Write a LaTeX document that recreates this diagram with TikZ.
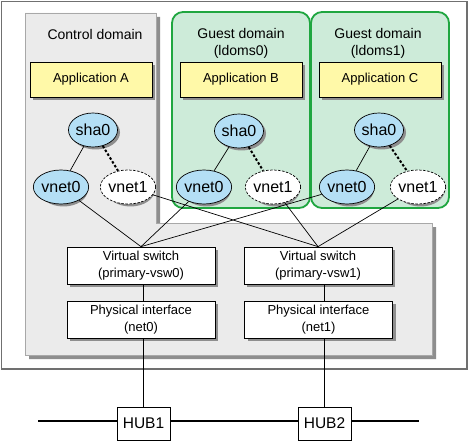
\documentclass[tikz,border=0pt]{standalone}
\usepackage{fontspec}
\setmainfont{Liberation Sans}
\usetikzlibrary{shapes.geometric}
\definecolor{ctrlgray}{HTML}{EBEBEB}
\definecolor{ctrledge}{HTML}{A8A8A8}
\definecolor{shadowgray}{HTML}{8E8E8E}
\definecolor{framegray}{HTML}{707070}
\definecolor{guestfill}{HTML}{CDEBD9}
\definecolor{guestedge}{HTML}{1FA640}
\definecolor{appfill}{HTML}{FFF9A8}
\definecolor{blobfill}{HTML}{B4DFF5}
\tikzset{
  shadowfill/.style={fill=shadowgray,draw=none},
  txt/.style={font=\fontsize{14bp}{17bp}\selectfont,align=center,inner sep=0pt},
  appbox/.style={draw=black,line width=0.7bp,fill=appfill,minimum width=122bp,minimum height=35bp,inner sep=0pt,font=\fontsize{13bp}{17bp}\selectfont},
  swbox/.style={draw=black,line width=0.7bp,fill=white,minimum width=148bp,minimum height=37bp,inner sep=0pt,align=center,font=\fontsize{13bp}{17bp}\selectfont},
  hubbox/.style={draw=black,line width=0.7bp,fill=white,minimum width=53bp,minimum height=33bp,inner sep=0pt,font=\fontsize{15.5bp}{18bp}\selectfont},
  blob/.style={ellipse,draw=black,line width=0.7bp,fill=blobfill,minimum width=49bp,minimum height=34bp,inner sep=0pt,font=\fontsize{16bp}{18bp}\selectfont},
  dblob/.style={blob,fill=white,dash pattern=on 2.5bp off 1.5bp},
  guestbox/.style={draw=guestedge,line width=1.8bp,fill=guestfill,rounded corners=11bp},
  link/.style={draw=black,line width=0.7bp},
  dlink/.style={draw=black,line width=2bp,dash pattern=on 2.5bp off 2bp},
  bus/.style={draw=black,line width=1.2bp},
}
\newcommand{\blobshadow}[2]{\fill[shadowfill] (#1+2.5,#2+2.5) ellipse [x radius=24.5,y radius=17];}
\begin{document}
\begin{tikzpicture}[x=1bp,y=-1bp]
\fill[white] (0,0) rectangle (469,444);
\useasboundingbox (0,0) rectangle (469,444);
% outer frame
\draw[framegray,line width=1.2bp] (1.5,1.5) rectangle (467,369);
% control domain area with shadow
\fill[shadowfill] (29,17) -- (160,17) -- (160,227) -- (436,227) -- (436,359) -- (29,359) -- cycle;
\path[fill=ctrlgray,draw=ctrledge,line width=0.7bp] (25,13) -- (156,13) -- (156,223) -- (432,223) -- (432,355) -- (25,355) -- cycle;
% guest domains
\path[guestbox] (172,12) rectangle (310,208);
\path[guestbox] (311,12) rectangle (449,208);
% titles
\node[txt] (tctrl) at (95,35) {Control domain};
\node[txt] (tg0) at (241,43.5) {Guest domain\\(ldoms0)};
\node[txt] (tg1) at (378,43.5) {Guest domain\\(ldoms1)};
% applications
\fill[shadowfill] (33,65) rectangle (155,100);
\fill[shadowfill] (183,65) rectangle (305,100);
\fill[shadowfill] (322,65) rectangle (444,100);
\node[appbox] (appA) at (91,79.5) {Application A};
\node[appbox] (appB) at (241,79.5) {Application B};
\node[appbox] (appC) at (380,79.5) {Application C};
% ellipses
\blobshadow{93}{130}
\blobshadow{61}{187}
\blobshadow{128}{187}
\blobshadow{239}{131}
\blobshadow{204}{187}
\blobshadow{273}{187}
\blobshadow{379}{130}
\blobshadow{347}{187}
\blobshadow{418}{187}
\node[blob] (cs) at (93,130) {sha0};
\node[blob] (cv0) at (61,187) {vnet0};
\node[dblob] (cv1) at (128,187) {vnet1};
\node[blob] (gs0) at (239,131) {sha0};
\node[blob] (g0v0) at (204,187) {vnet0};
\node[dblob] (g0v1) at (273,187) {vnet1};
\node[blob] (gs1) at (379,130) {sha0};
\node[blob] (g1v0) at (347,187) {vnet0};
\node[dblob] (g1v1) at (418,187) {vnet1};
% sha0 links
\draw[link] (cs) -- (cv0);
\draw[dlink] (cs) -- (cv1);
\draw[link] (gs0) -- (g0v0);
\draw[dlink] (gs0) -- (g0v1);
\draw[link] (gs1) -- (g1v0);
\draw[dlink] (gs1) -- (g1v1);
% switches and interfaces
\fill[shadowfill] (70,250) rectangle (218,287);
\fill[shadowfill] (247,250) rectangle (395,287);
\fill[shadowfill] (70,304) rectangle (218,341);
\fill[shadowfill] (247.5,304) rectangle (395.5,341);
\node[swbox] (vsw0) at (141,265.5) {Virtual switch\\(primary-vsw0)};
\node[swbox] (vsw1) at (318,265.5) {Virtual switch\\(primary-vsw1)};
\node[swbox] (net0) at (141,319.5) {Physical interface\\(net0)};
\node[swbox] (net1) at (318.5,319.5) {Physical interface\\(net1)};
% vnet to switch links
\draw[link] (cv0) -- (vsw0.north);
\draw[link] (g0v0) -- (vsw0.north);
\draw[link] (g1v0) -- (vsw0.north);
\draw[link] (cv1) -- (vsw1.north);
\draw[link] (g0v1) -- (vsw1.north);
\draw[link] (g1v1) -- (vsw1.north);
% hubs
\coordinate (busL) at (38,421);
\coordinate (busR) at (419,421);
\node[hubbox] (hub1) at (143.5,423.5) {HUB1};
\node[hubbox] (hub2) at (324.5,423.5) {HUB2};
\draw[bus] (busL) -- (busL -| hub1.west);
\draw[bus] (busL -| hub1.east) -- (busL -| hub2.west);
\draw[bus] (busL -| hub2.east) -- (busR);
% vertical links
\draw[link] (vsw0.south -| hub1.north) -- (net0.north -| hub1.north);
\draw[link] (net0.south -| hub1.north) -- (hub1.north);
\draw[link] (vsw1.south -| hub2.north) -- (net1.north -| hub2.north);
\draw[link] (net1.south -| hub2.north) -- (hub2.north);
\end{tikzpicture}
\end{document}
